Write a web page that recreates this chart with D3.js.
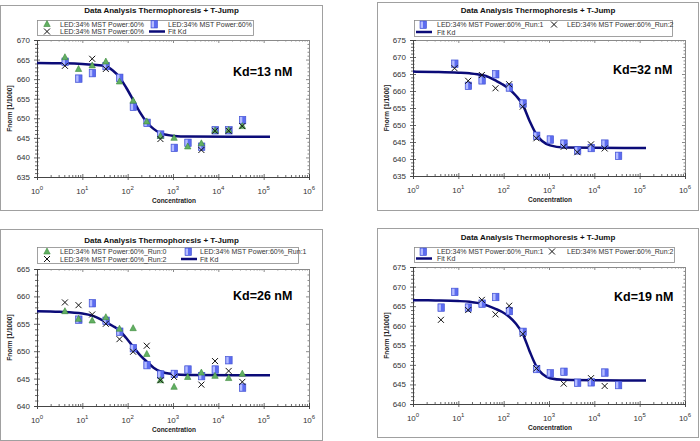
<!DOCTYPE html>
<html><head><meta charset="utf-8">
<script src="https://cdn.jsdelivr.net/npm/d3@7"></script>
<style>body{margin:0;background:#fff;} svg{display:block;font-family:"Liberation Sans",Arial,sans-serif;}</style>
</head><body><svg id="c" width="700" height="441"></svg>
<script>
// ---------- data ----------
const titleText = "Data Analysis Thermophoresis + T-Jump";
const xTickValues = [1, 10, 100, 1000, 10000, 100000, 1000000];
const xTickExp = ["0", "1", "2", "3", "4", "5", "6"];

const conc14 = [4.13, 8.25, 16.5, 33, 66, 132, 264, 528, 1056, 2112, 4224, 8448, 16900, 33800];
const conc13 = [8.25, 16.5, 33, 66, 132, 264, 528, 1056, 2112, 4224, 8448, 16900, 33800];
const fitConc = [1, 3.16, 10, 17.8, 33, 47, 66, 93, 132, 187, 264, 373, 528, 1056, 2112, 138000];

// Panel 1 (Kd=13 nM)
const p1Tri = [665.6, 662.6, 663.5, 664.5, 659.4, 654.5, 649.2, 645.5, 645.0, 642.8, 643.6, 646.9, 647.0, 648.0];
const p1Sq  = [664.5, 660.2, 661.6, 663.4, 660.4, 653.0, 648.9, 645.9, 642.5, 643.8, 642.8, 647.0, 647.0, 649.6];
const p1X   = [663.4, null, 665.2, 662.6, null, null, null, 644.7, null, null, 641.9, 646.8, 646.8, 648.0];
const p1Fit = [664.1, 664.05, 663.9, 663.7, 663.3, 662.2, 660.5, 657.8, 654.7, 651.5, 649.0, 647.3, 646.2, 645.5, 645.35, 645.3];

// Panel 2 (Kd=32 nM)
const p2Sq  = [668.1, 661.6, 663.2, 665.0, 661.1, 656.4, 646.9, 645.8, 644.6, 642.6, 643.3, 644.6, 641.0];
const p2X   = [666.7, 663.0, 664.7, 660.8, 662.0, 655.4, 646.1, null, 643.6, 642.0, 644.3, 643.1, null];
const p2Fit = [665.7, 665.6, 665.4, 665.2, 664.7, 664.1, 663.1, 662.0, 660.6, 658.6, 655.9, 651.2, 647.2, 644.0, 643.4, 643.2];

// Panel 3 (Kd=26 nM)
const p3Tri = [657.3, 655.9, 655.6, 656.2, 654.1, 654.2, 649.5, 644.7, 643.5, 645.3, 646.1, 645.5, 645.1, 645.9];
const p3Sq  = [null, 655.8, 658.8, 655.6, 653.6, 650.6, 647.5, 645.8, 645.9, 646.7, 645.5, 646.7, 648.4, 643.4];
const p3X   = [658.9, 658.4, 656.7, 655.0, 652.2, 649.9, 651.0, 644.7, 645.3, null, 643.9, 648.2, 646.4, 644.4];
const p3Fit = [657.3, 657.2, 656.9, 656.4, 655.3, 654.6, 653.8, 652.4, 650.8, 649.3, 648.1, 647.0, 646.3, 645.8, 645.65, 645.6];

// Panel 4 (Kd=19 nM)
const p4Sq  = [664.7, 668.7, 664.7, 665.7, 667.4, 663.8, 658.5, 649.0, 647.9, 648.3, 645.5, 645.6, 648.1, 644.9];
const p4X   = [661.5, null, 664.0, 666.6, 662.9, 665.1, 657.9, 649.1, null, 645.2, null, 646.6, 644.6, null];
const p4Fit = [666.5, 666.45, 666.3, 666.1, 665.6, 665.0, 664.3, 663.5, 662.3, 660.5, 657.9, 653.5, 649.6, 646.6, 646.2, 646.0];

const legendBase = "LED:34% MST Power:60%";

// ---------- drawing ----------
const svg = d3.select("#c");
const NAVY = "#0b0b78";

function pairs(xs, ys) { return xs.map((c, i) => [c, ys[i]]).filter(d => d[1] != null); }

function marker(g, type, cx, cy) {
  if (type === "sq") {
    g.append("rect").attr("x", cx - 3).attr("y", cy - 3.5).attr("width", 6.5).attr("height", 7.5)
      .attr("fill", "#5c6cf0").attr("stroke", "#3f4fd0").attr("stroke-width", 0.6);
    g.append("rect").attr("x", cx - 2.4).attr("y", cy - 2.9).attr("width", 2.4).attr("height", 6.3)
      .attr("fill", "#b4bcff");
  } else if (type === "tri") {
    g.append("path").attr("d", `M${cx},${cy - 3.5}L${cx + 3.2},${cy + 2.5}L${cx - 3.2},${cy + 2.5}Z`)
      .attr("fill", "#62b062").attr("stroke", "#3d8a3d").attr("stroke-width", 0.6);
  } else if (type === "x") {
    g.append("path").attr("d", `M${cx - 3},${cy - 3}L${cx + 3},${cy + 3}M${cx + 3},${cy - 3}L${cx - 3},${cy + 3}`)
      .attr("stroke", "#111").attr("stroke-width", 1);
  } else if (type === "line") {
    g.append("line").attr("x1", cx - 8).attr("x2", cx + 8).attr("y1", cy).attr("y2", cy)
      .attr("stroke", NAVY).attr("stroke-width", 2.5);
  }
}

function drawPanel(p) {
  const g = svg.append("g");
  const [fx, fy, fw, fh] = p.frame;
  g.append("rect").attr("x", fx + 0.5).attr("y", fy + 0.5).attr("width", fw).attr("height", fh)
    .attr("fill", "#fff").attr("stroke", "#a0a0a0").attr("stroke-width", 1);

  const x = d3.scaleLog().domain([1, 1e6]).range([p.plot.l, p.plot.r]);
  const y = d3.scaleLinear().domain(p.yDomain).range([p.plot.b, p.plot.t]);

  const xMinor = [];
  for (let e = 0; e < 6; e++) for (let m = 2; m <= 9; m++) xMinor.push(m * Math.pow(10, e));
  const yMajor = d3.range(p.yDomain[0], p.yDomain[1] + 0.01, 5);
  const yMinor = d3.range(p.yDomain[0], p.yDomain[1] + 0.01, 1).filter(v => (v - p.yDomain[0]) % 5 !== 0);

  // top and right frame axes (light)
  const top = g.append("g").attr("transform", `translate(0,${p.plot.t})`).attr("class", "ax2");
  top.call(d3.axisBottom(x).tickValues(xMinor).tickSize(1.5).tickFormat(""));
  top.append("g").call(d3.axisBottom(x).tickValues(xTickValues).tickSize(3).tickFormat(""));
  const right = g.append("g").attr("transform", `translate(${p.plot.r},0)`).attr("class", "ax2");
  right.call(d3.axisLeft(y).tickValues(yMinor).tickSize(1.5).tickFormat(""));
  right.append("g").call(d3.axisLeft(y).tickValues(yMajor).tickSize(3).tickFormat(""));
  g.selectAll(".ax2 path, .ax2 line").attr("stroke", "#8a8a8a");

  // left axis
  const left = g.append("g").attr("transform", `translate(${p.plot.l},0)`).attr("class", "ax1");
  left.call(d3.axisLeft(y).tickValues(yMajor).tickSize(3).tickPadding(4).tickFormat(d3.format("d")));
  left.append("g").call(d3.axisRight(y).tickValues(yMajor).tickSize(3).tickFormat(""));
  left.append("g").call(d3.axisLeft(y).tickValues(yMinor).tickSize(2).tickFormat(""));
  left.append("g").call(d3.axisRight(y).tickValues(yMinor).tickSize(1.5).tickFormat(""));
  left.selectAll("text").attr("font-size", 8).attr("fill", "#333").attr("font-family", "Liberation Sans, Arial, sans-serif");

  // bottom axis
  const bottom = g.append("g").attr("transform", `translate(0,${p.plot.b})`).attr("class", "ax1");
  bottom.call(d3.axisBottom(x).tickValues(xTickValues).tickSize(3).tickFormat(""));
  bottom.append("g").call(d3.axisTop(x).tickValues(xTickValues).tickSize(3).tickFormat(""));
  bottom.append("g").call(d3.axisTop(x).tickValues(xMinor).tickSize(2).tickFormat(""));
  g.selectAll(".ax1 path, .ax1 line").attr("stroke", "#444").attr("stroke-width", 0.8);

  // x tick labels with superscripts
  xTickValues.forEach((v, i) => {
    const t = g.append("text").attr("x", x(v)).attr("y", p.plot.b + 17)
      .attr("text-anchor", "middle").attr("font-size", 8).attr("fill", "#333");
    t.append("tspan").text("10");
    t.append("tspan").attr("dy", -4).attr("font-size", 6).text(xTickExp[i]);
  });

  // axis titles
  g.append("text").attr("x", (p.plot.l + p.plot.r) / 2 + 1).attr("y", p.plot.b + 26)
    .attr("text-anchor", "middle").attr("font-size", 6.5).attr("font-weight", "bold").attr("fill", "#222")
    .text("Concentration");
  g.append("text").attr("transform", `translate(${fx + 12},${(p.plot.t + p.plot.b) / 2}) rotate(-90)`)
    .attr("text-anchor", "middle").attr("font-size", 6.5).attr("font-weight", "bold").attr("fill", "#222")
    .text("Fnorm [1/1000]");

  // fit line
  const line = d3.line().x(d => x(d[0])).y(d => y(d[1])).curve(d3.curveMonotoneX);
  g.append("path").datum(pairs(fitConc, p.fit)).attr("d", line)
    .attr("fill", "none").attr("stroke", NAVY).attr("stroke-width", 2.5);

  // points
  p.series.forEach(s => {
    pairs(s.conc, s.vals).forEach(d => marker(g, s.type, x(d[0]), y(d[1])));
  });

  // title
  g.append("text").attr("x", fx + fw / 2 + 0.5).attr("y", p.titleY).attr("text-anchor", "middle")
    .attr("font-size", 8).attr("font-weight", "bold").attr("fill", "#111").text(titleText);

  // legend
  const [lx, ly, lw, lh] = p.legend.box;
  g.append("rect").attr("x", lx + 0.5).attr("y", ly + 0.5).attr("width", lw).attr("height", lh)
    .attr("fill", "#fff").attr("stroke", "#8a8a8a").attr("stroke-width", 0.8);
  p.legend.items.forEach(it => {
    marker(g, it.type, it.mx, it.y);
    g.append("text").attr("x", it.tx).attr("y", it.y + 2.5).attr("font-size", 7).attr("fill", "#333").text(it.label);
  });

  // Kd label
  g.append("text").attr("x", p.kd.x).attr("y", p.kd.y).attr("font-size", 12.5).attr("font-weight", "bold")
    .attr("fill", "#000").text(p.kd.text);
}

drawPanel({
  frame: [0, 5, 322, 205], plot: { l: 37, r: 309, t: 40, b: 177 }, yDomain: [635, 670], fit: p1Fit,
  titleY: 13,
  series: [
    { type: "sq", conc: conc14, vals: p1Sq },
    { type: "tri", conc: conc14, vals: p1Tri },
    { type: "x", conc: conc14, vals: p1X }
  ],
  legend: { box: [37, 20, 216, 15], items: [
    { type: "tri", mx: 47, tx: 60, y: 24, label: legendBase },
    { type: "sq", mx: 154, tx: 168, y: 24, label: legendBase },
    { type: "x", mx: 47, tx: 60, y: 31.5, label: legendBase },
    { type: "line", mx: 157, tx: 168, y: 31.5, label: "Fit Kd" }
  ] },
  kd: { x: 233, y: 76, text: "Kd=13 nM" }
});

drawPanel({
  frame: [377, 2, 321, 208], plot: { l: 413, r: 685, t: 40, b: 176 }, yDomain: [635, 675], fit: p2Fit,
  titleY: 13,
  series: [
    { type: "sq", conc: conc13, vals: p2Sq },
    { type: "x", conc: conc13, vals: p2X }
  ],
  legend: { box: [414, 20, 258, 16], items: [
    { type: "sq", mx: 423, tx: 437, y: 24.5, label: legendBase + "_Run:1" },
    { type: "x", mx: 554, tx: 567, y: 24.5, label: legendBase + "_Run:2" },
    { type: "line", mx: 424, tx: 437, y: 32, label: "Fit Kd" }
  ] },
  kd: { x: 613, y: 74, text: "Kd=32 nM" }
});

drawPanel({
  frame: [0, 229, 322, 211], plot: { l: 37, r: 309, t: 269, b: 406 }, yDomain: [640, 665], fit: p3Fit,
  titleY: 243,
  series: [
    { type: "sq", conc: conc14, vals: p3Sq },
    { type: "tri", conc: conc14, vals: p3Tri },
    { type: "x", conc: conc14, vals: p3X }
  ],
  legend: { box: [37, 247, 261, 16], items: [
    { type: "tri", mx: 47, tx: 60, y: 251.5, label: legendBase + "_Run:0" },
    { type: "sq", mx: 188, tx: 200, y: 251.5, label: legendBase + "_Run:1" },
    { type: "x", mx: 47, tx: 60, y: 259, label: legendBase + "_Run:2" },
    { type: "line", mx: 189, tx: 200, y: 259, label: "Fit Kd" }
  ] },
  kd: { x: 233, y: 300, text: "Kd=26 nM" }
});

drawPanel({
  frame: [377, 228, 321, 209], plot: { l: 413, r: 685, t: 267, b: 404 }, yDomain: [640, 675], fit: p4Fit,
  titleY: 240,
  series: [
    { type: "sq", conc: conc14, vals: p4Sq },
    { type: "x", conc: conc14, vals: p4X }
  ],
  legend: { box: [414, 247, 260, 15], items: [
    { type: "sq", mx: 423, tx: 437, y: 251.5, label: legendBase + "_Run:1" },
    { type: "x", mx: 552, tx: 567, y: 251.5, label: legendBase + "_Run:2" },
    { type: "line", mx: 424, tx: 437, y: 258.5, label: "Fit Kd" }
  ] },
  kd: { x: 614, y: 301, text: "Kd=19 nM" }
});
</script></body></html>
